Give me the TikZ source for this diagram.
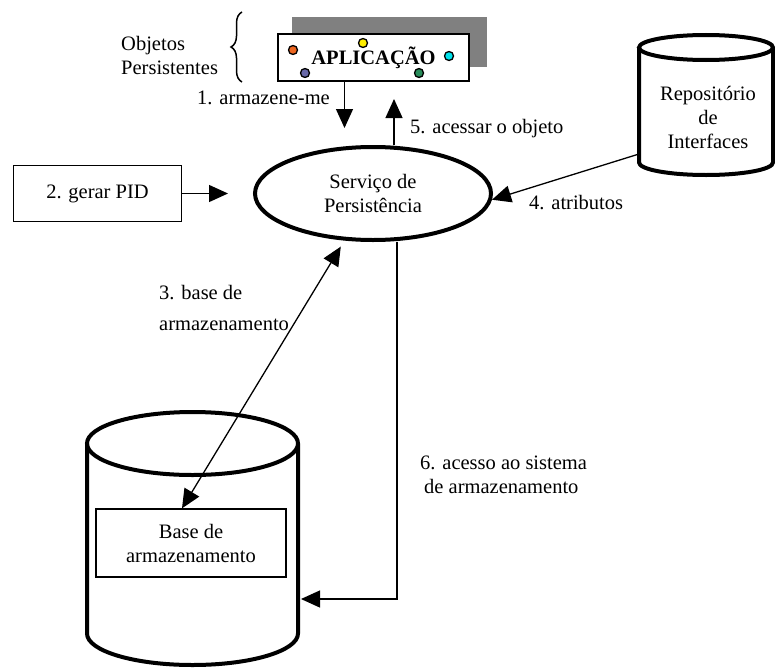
\documentclass[tikz,border=0pt]{standalone}
\usepackage{fontspec}
\setmainfont{Liberation Serif}
\usepackage{xcolor}
\usepackage{tikz}
\usetikzlibrary{arrows.meta,shapes.geometric}
\usetikzlibrary{decorations.pathreplacing}

\definecolor{shadowgray}{RGB}{128,128,128}
\definecolor{dotorange}{RGB}{236,102,32}
\definecolor{dotyellow}{RGB}{255,238,0}
\definecolor{dotcyan}{RGB}{0,226,236}
\definecolor{dotpurple}{RGB}{104,104,168}
\definecolor{dotgreen}{RGB}{40,140,90}

\begin{document}
\begin{tikzpicture}[x=1pt, y=-1pt, >={Triangle[length=19pt,width=17pt]},
	every node/.style={font=\fontsize{20.5}{24}\selectfont, inner sep=0pt},
	box/.style={draw, line width=1.3pt, fill=white},
	dot/.style={circle, draw, line width=1.3pt, minimum size=9pt},
	link/.style={->, line width=1.3pt},
	db/.style={line width=4pt}]

\useasboundingbox (0,0) rectangle (775,669);

% aplicacao
\fill[shadowgray] (292,17) rectangle (487,67);
\node[box, minimum width=191pt, minimum height=47pt, font=\fontsize{20.5}{24}\selectfont\bfseries] (app) at (373.5,57.5) {APLICAÇÃO};

\foreach \px/\py/\col in {293/50/dotorange, 363/43/dotyellow, 449/56/dotcyan, 305/73/dotpurple, 419/73/dotgreen}
{
	\node[dot, fill=\col] (\col) at (\px,\py) {};
}

\draw[decorate, decoration={brace, amplitude=11pt}, line width=1.5pt] (242,82) -- (242,12);
\node[anchor=west, align=left] (objs) at (121,55) {Objetos\\Persistentes};

% servico
\node[ellipse, draw, line width=4pt, minimum width=236pt, minimum height=93pt, align=center] (serv) at (373,193.5) {Serviço de\\Persistência};

\node[box, minimum width=168pt, minimum height=56pt] (pid) at (97.5,193.5) {2. gerar PID};

% repositorio
\draw[db] (706,47.5) ellipse [x radius=67pt, y radius=12.5pt];
\draw[db] (639,47.5) -- (639,162.5) arc[start angle=180, end angle=360, x radius=67pt, y radius=12.5pt] -- (773,47.5);
\node[align=center] (repo) at (708,117) {Repositório\\de\\Interfaces};
\coordinate (repoL) at (639,154);

% armazenamento
\draw[db] (192.5,443.5) ellipse [x radius=105.5pt, y radius=31.5pt];
\draw[db] (87,443.5) -- (87,633.5) arc[start angle=180, end angle=360, x radius=105.5pt, y radius=31.5pt] -- (298,443.5);
\node[box, minimum width=190pt, minimum height=68pt, align=center] (base) at (191,543) {Base de\\armazenamento};

% pontas
\coordinate (t1) at (344.5,128);
\coordinate (t2) at (228,193.5);
\coordinate (t5) at (394,99);
\coordinate (baseR) at (301,599);

\draw[link] ([xshift=-29pt]app.south) -- (t1);
\draw[link] ([xshift=21pt]serv.north) -- (t5);
\draw[link] (pid) -- (t2);
\draw[link] (repoL) -- (serv.-3);
\draw[link, <->, shorten >=7pt] ([xshift=-9pt]base.north) -- (serv);
\draw[link] ([xshift=24pt]serv.south) |- (baseR);

% rotulos
\node[anchor=east] (l1) at (330,98) {1. armazene-me};
\node[anchor=west] (l5) at (410,129) {5. acessar o objeto};
\node[anchor=west] (l4) at (529,203) {4. atributos};
\node[anchor=west, align=left] (l3) at (159,308) {3. base de\\[7pt]armazenamento};
\node[anchor=west, align=left] (l6) at (420,475) {6. acesso ao sistema\\\hspace{4pt}de armazenamento};

\end{tikzpicture}
\end{document}
